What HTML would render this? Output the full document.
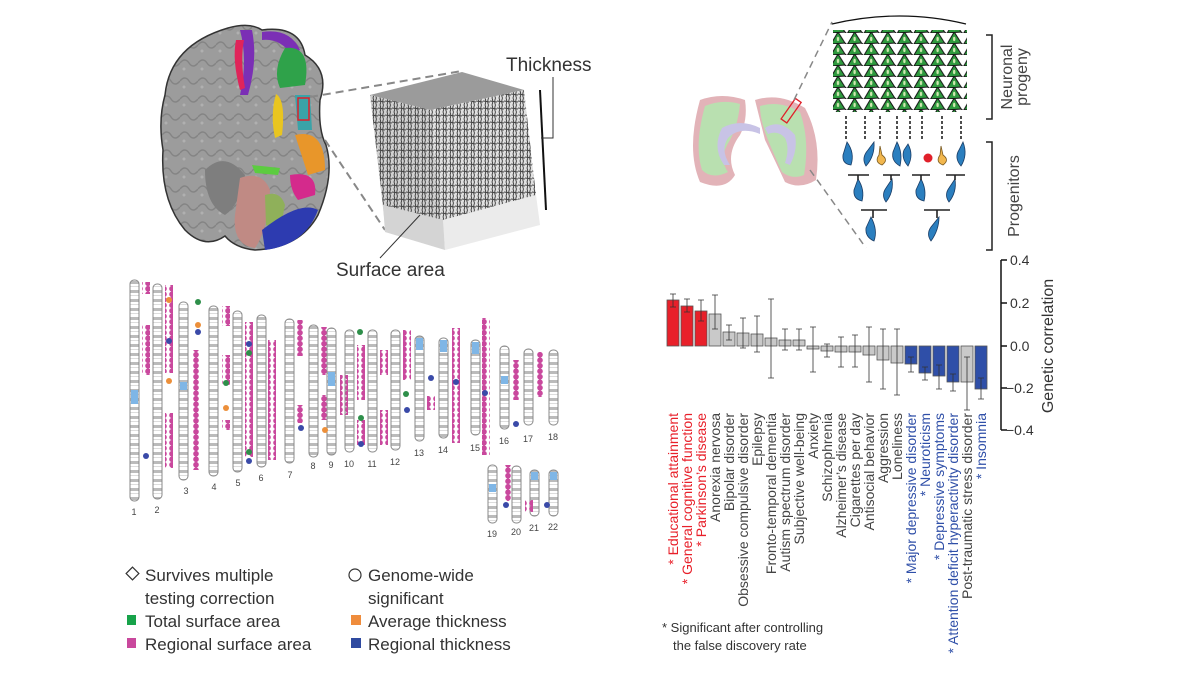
<!DOCTYPE html>
<html><head><meta charset="utf-8"><style>
html,body{margin:0;padding:0;background:#fff;width:1200px;height:675px;overflow:hidden}
svg{display:block}
text{font-family:"Liberation Sans Narrow","Liberation Sans",sans-serif}
</style></head><body>
<svg width="1200" height="675" viewBox="0 0 1200 675" xmlns="http://www.w3.org/2000/svg">
<defs>
<pattern id="band" width="8" height="9" patternUnits="userSpaceOnUse">
<rect width="8" height="9" fill="#fff"/><rect y="2" width="8" height="3" fill="#bbb"/><rect y="7" width="8" height="1" fill="#ddd"/>
</pattern>
<pattern id="mdot" width="8" height="5.5" patternUnits="userSpaceOnUse">
<circle cx="4" cy="2.75" r="2.8" fill="#c9489d"/>
</pattern>
<pattern id="neur" width="16.6" height="11" patternUnits="userSpaceOnUse">
<path d="M1 11 L8 -1 L15 10 Z" fill="#2e9a3e" stroke="#111" stroke-width="1"/>
<path d="M1 11 L-1 13 M15 10 L17 12 M8 -1 L8 -3" stroke="#111" stroke-width="1.2"/>
<ellipse cx="8" cy="6" rx="1.2" ry="2.2" fill="#cfe8b0"/>
</pattern>
<pattern id="fib" width="7" height="7" patternUnits="userSpaceOnUse">
<path d="M2 0 Q3.5 3 2 7 M5.5 0 Q4 4 5.5 7 M0 3 L7 4" stroke="#444" stroke-width="1" fill="none"/>
</pattern>
<pattern id="brainp" width="18" height="18" patternUnits="userSpaceOnUse">
<rect width="18" height="18" fill="#9c9c9c"/><path d="M0 9 Q5 3 9 9 T18 9" stroke="#848484" stroke-width="1.4" fill="none"/><circle cx="4" cy="15" r="1.5" fill="#b0b0b0"/>
</pattern>
</defs>

<!-- Brain axial -->
<path d="M228 28 Q250 22 262 30 Q300 25 305 55 Q330 70 320 100 Q318 130 326 145 Q335 175 318 215 Q300 248 255 250 Q235 248 225 236 Q205 250 185 230 Q160 200 163 150 Q158 120 165 95 Q170 45 228 28 Z" fill="url(#brainp)" stroke="#333" stroke-width="1.5"/>
<path d="M205 170 Q225 150 245 175 Q240 205 225 215 Q205 205 205 170Z" fill="#7e7e7e"/>
<path d="M240 30 Q248 60 240 95 L248 95 Q258 60 252 30Z" fill="#7b2fb5"/>
<path d="M236 40 Q232 60 240 90 L245 88 Q240 60 244 40Z" fill="#e0245a"/>
<path d="M262 32 Q290 28 300 50 L292 55 Q280 38 262 40Z" fill="#7b2fb5"/>
<path d="M285 48 Q312 45 305 85 L280 88 Q272 70 285 48Z" fill="#2fa24a"/>
<path d="M276 94 Q286 100 282 135 L275 138 Q270 115 276 94Z" fill="#e9c520"/>
<path d="M295 95 L310 95 L312 130 L298 130Z" fill="#3aa3a8"/>
<rect x="298" y="98" width="11" height="22" fill="none" stroke="#e0202a" stroke-width="1.5"/>
<path d="M295 135 Q325 128 325 170 L308 175 Q300 150 295 135Z" fill="#e8962a"/>
<path d="M290 175 Q318 170 315 195 L298 200 Q290 190 290 175Z" fill="#d42a8c"/>
<path d="M252 165 L280 168 L278 175 L255 173Z" fill="#5ccc40"/>
<path d="M240 178 Q262 170 270 190 Q268 230 255 248 Q232 245 235 215 Z" fill="#c08a84"/>
<path d="M265 195 Q280 190 285 205 L280 230 L266 225Z" fill="#8fb05a"/>
<path d="M262 230 Q300 200 318 210 Q305 245 265 250Z" fill="#2d3bb0"/>

<line x1="310" y1="97" x2="462" y2="71" stroke="#888" stroke-width="2" stroke-dasharray="8,5"/>
<line x1="325" y1="140" x2="385" y2="230" stroke="#888" stroke-width="2" stroke-dasharray="8,5"/>

<!-- Cube -->
<polygon points="370,95 462,72 524,90 430,110" fill="#9b9b9b"/>
<polygon points="370,95 430,110 443,240 385,225" fill="#d0d0d0"/>
<polygon points="430,110 524,90 538,215 443,240" fill="#e0e0e0"/>
<polygon points="370,95 430,110 443,220 383,205" fill="url(#fib)"/>
<polygon points="430,110 524,90 536,195 443,220" fill="url(#fib)"/>
<polygon points="383,205 443,220 445,250 385,232" fill="#d4d4d4"/>
<polygon points="443,220 536,195 540,225 445,250" fill="#ebebeb"/>
<line x1="540" y1="90" x2="546" y2="210" stroke="#111" stroke-width="2"/>
<polyline points="553,77 553,138 541,138" fill="none" stroke="#333" stroke-width="1"/>
<text x="506" y="71" font-size="19" fill="#333">Thickness</text>
<line x1="380" y1="258" x2="420" y2="215" stroke="#333" stroke-width="1"/>
<text x="336" y="276" font-size="19" fill="#333">Surface area</text>

<!-- Chromosomes -->
<g stroke="#888" stroke-width="1" fill="url(#band)">
<rect x="130" y="280" width="9" height="221" rx="4"/>
<rect x="153" y="284" width="9" height="215" rx="4"/>
<rect x="179" y="302" width="9" height="178" rx="4"/>
<rect x="209" y="306" width="9" height="170" rx="4"/>
<rect x="233" y="311" width="9" height="161" rx="4"/>
<rect x="257" y="315" width="9" height="152" rx="4"/>
<rect x="285" y="319" width="9" height="144" rx="4"/>
<rect x="309" y="325" width="9" height="132" rx="4"/>
<rect x="327" y="328" width="9" height="127" rx="4"/>
<rect x="345" y="330" width="9" height="122" rx="4"/>
<rect x="368" y="330" width="9" height="122" rx="4"/>
<rect x="391" y="330" width="9" height="120" rx="4"/>
<rect x="415" y="336" width="9" height="105" rx="4"/>
<rect x="439" y="338" width="9" height="100" rx="4"/>
<rect x="471" y="340" width="9" height="95" rx="4"/>
<rect x="500" y="346" width="9" height="83" rx="4"/>
<rect x="524" y="349" width="9" height="76" rx="4"/>
<rect x="549" y="350" width="9" height="75" rx="4"/>
<rect x="488" y="465" width="9" height="58" rx="4"/>
<rect x="512" y="466" width="9" height="57" rx="4"/>
<rect x="530" y="470" width="9" height="46" rx="4"/>
<rect x="549" y="470" width="9" height="46" rx="4"/>
</g>
<g fill="#7fb6e6">
<rect x="131" y="390" width="7" height="14"/><rect x="180" y="382" width="7" height="8"/><rect x="328" y="372" width="7" height="14"/>
<rect x="416" y="338" width="7" height="12"/><rect x="440" y="340" width="7" height="12"/><rect x="472" y="342" width="7" height="12"/>
<rect x="501" y="376" width="7" height="8"/><rect x="489" y="484" width="7" height="8"/><rect x="531" y="472" width="7" height="8"/><rect x="550" y="472" width="7" height="8"/>
</g>
<g fill="url(#mdot)">
<rect x="142" y="325" width="8" height="50"/><rect x="142" y="282" width="8" height="12"/>
<rect x="165" y="285" width="8" height="88"/><rect x="165" y="413" width="8" height="55"/>
<rect x="193" y="350" width="8" height="120"/>
<rect x="222" y="306" width="8" height="20"/><rect x="222" y="355" width="8" height="30"/><rect x="222" y="420" width="8" height="10"/>
<rect x="245" y="322" width="8" height="135"/>
<rect x="268" y="340" width="8" height="120"/>
<rect x="297" y="320" width="8" height="36"/><rect x="297" y="405" width="8" height="18"/>
<rect x="320" y="327" width="8" height="48"/><rect x="320" y="395" width="8" height="25"/>
<rect x="340" y="375" width="8" height="40"/>
<rect x="357" y="345" width="8" height="55"/><rect x="357" y="420" width="8" height="25"/>
<rect x="380" y="350" width="8" height="25"/><rect x="380" y="410" width="8" height="35"/>
<rect x="403" y="330" width="8" height="50"/>
<rect x="427" y="396" width="8" height="14"/>
<rect x="452" y="328" width="8" height="115"/>
<rect x="482" y="318" width="8" height="137"/>
<rect x="512" y="360" width="8" height="40"/><rect x="537" y="352" width="8" height="45"/>
<rect x="503" y="465" width="8" height="36"/><rect x="525" y="500" width="8" height="12"/>
</g>
<g fill="#2e8f4a"><circle cx="198" cy="302" r="3"/><circle cx="226" cy="383" r="3"/><circle cx="249" cy="353" r="3"/><circle cx="249" cy="452" r="3"/><circle cx="360" cy="332" r="3"/><circle cx="361" cy="418" r="3"/><circle cx="406" cy="394" r="3"/></g>
<g fill="#3a4aa8"><circle cx="146" cy="456" r="3"/><circle cx="169" cy="341" r="3"/><circle cx="198" cy="332" r="3"/><circle cx="249" cy="344" r="3"/><circle cx="249" cy="461" r="3"/><circle cx="301" cy="428" r="3"/><circle cx="361" cy="444" r="3"/><circle cx="407" cy="410" r="3"/><circle cx="431" cy="378" r="3"/><circle cx="456" cy="382" r="3"/><circle cx="485" cy="393" r="3"/><circle cx="516" cy="424" r="3"/><circle cx="506" cy="505" r="3"/><circle cx="547" cy="505" r="3"/></g>
<g fill="#ec8f3a"><circle cx="169" cy="300" r="3"/><circle cx="169" cy="381" r="3"/><circle cx="198" cy="325" r="3"/><circle cx="226" cy="408" r="3"/><circle cx="325" cy="430" r="3"/></g>
<g font-size="9" fill="#444" text-anchor="middle">
<text x="134" y="515">1</text><text x="157" y="513">2</text><text x="186" y="494">3</text><text x="214" y="490">4</text><text x="238" y="486">5</text><text x="261" y="481">6</text><text x="290" y="478">7</text><text x="313" y="469">8</text><text x="331" y="468">9</text><text x="349" y="467">10</text><text x="372" y="467">11</text><text x="395" y="465">12</text><text x="419" y="456">13</text><text x="443" y="453">14</text><text x="475" y="451">15</text><text x="504" y="444">16</text><text x="528" y="442">17</text><text x="553" y="440">18</text><text x="492" y="537">19</text><text x="516" y="535">20</text><text x="534" y="531">21</text><text x="553" y="530">22</text>
</g>

<!-- Legend -->
<g font-size="17" fill="#333">
<rect x="128" y="569" width="9" height="9" fill="none" stroke="#333" stroke-width="1.2" transform="rotate(45 132.5 573.5)"/>
<text x="145" y="581">Survives multiple</text><text x="145" y="604">testing correction</text>
<rect x="127" y="615" width="9" height="10" fill="#17a34a"/><text x="145" y="627">Total surface area</text>
<rect x="127" y="638" width="9" height="10" fill="#c9489d"/><text x="145" y="650">Regional surface area</text>
<circle cx="355" cy="575" r="6" fill="none" stroke="#333" stroke-width="1.2"/>
<text x="368" y="581">Genome-wide</text><text x="368" y="604">significant</text>
<rect x="351" y="615" width="10" height="10" fill="#ef8c3c"/><text x="368" y="627">Average thickness</text>
<rect x="351" y="638" width="10" height="10" fill="#2f4aa0"/><text x="368" y="650">Regional thickness</text>
</g>

<!-- Coronal brain -->
<path d="M700 100 Q722 92 745 100 Q748 120 740 135 Q725 155 735 175 Q725 192 700 182 Q686 150 700 100Z" fill="#e2b3b8"/>
<path d="M705 106 Q722 99 740 104 Q738 125 730 140 Q718 158 728 172 Q712 180 702 170 Q694 145 705 106Z" fill="#b9e0b0"/>
<path d="M755 100 Q780 92 805 108 Q822 140 816 180 Q800 190 785 182 Q770 150 765 140 Q760 120 755 100Z" fill="#e2b3b8"/>
<path d="M760 106 Q780 100 800 112 Q810 140 804 175 Q792 180 782 172 Q772 150 768 140 Q760 120 760 106Z" fill="#b9e0b0"/>
<path d="M722 128 Q740 118 760 128 L760 134 Q740 126 728 138 Q720 150 730 165 L724 165 Q712 148 722 128Z" fill="#c8c3e6"/>
<path d="M765 128 Q780 118 795 135 Q798 150 790 165 L785 163 Q790 148 785 138 Q778 130 768 134Z" fill="#c8c3e6"/>
<rect x="788" y="98" width="7" height="25" fill="none" stroke="#e0202a" stroke-width="1.3" transform="rotate(35 791 110)"/>
<line x1="794" y1="100" x2="832" y2="22" stroke="#888" stroke-width="1.5" stroke-dasharray="7,5"/>
<line x1="810" y1="170" x2="866" y2="248" stroke="#888" stroke-width="1.5" stroke-dasharray="7,5"/>

<!-- Neurons -->
<path d="M832 24 Q900 8 966 24" fill="none" stroke="#111" stroke-width="1.2"/>
<rect x="833" y="30" width="134" height="82" fill="url(#neur)"/>
<g stroke="#222" stroke-width="1.6" stroke-dasharray="3,2">
<line x1="846" y1="116" x2="846" y2="140"/><line x1="865" y1="116" x2="865" y2="140"/><line x1="880" y1="116" x2="880" y2="140"/><line x1="897" y1="116" x2="897" y2="140"/><line x1="910" y1="116" x2="910" y2="140"/><line x1="922" y1="116" x2="922" y2="140"/><line x1="942" y1="116" x2="942" y2="140"/><line x1="961" y1="116" x2="961" y2="140"/>
</g>
<g fill="#2b7fbf" stroke="#1a3d66" stroke-width="0.8">
<path d="M847 142 Q855 153 851 165 Q842 164 843 155Z"/><path d="M874 142 Q875 156 866 166 Q861 158 868 150Z"/>
<path d="M897 142 Q903 153 900 166 Q891 161 893 152Z"/><path d="M908 144 Q914 155 908 166 Q901 158 904 150Z"/>
<path d="M963 142 Q968 155 961 166 Q954 158 959 150Z"/>
<path d="M858 179 Q865 190 862 201 Q853 199 854 190Z"/><path d="M892 179 Q894 192 886 202 Q881 195 886 188Z"/>
<path d="M921 179 Q927 190 924 201 Q915 199 916 190Z"/><path d="M955 179 Q957 192 949 202 Q944 195 949 188Z"/>
<path d="M871 217 Q878 230 874 241 Q865 237 866 228Z"/><path d="M939 217 Q939 230 931 241 Q926 234 931 227Z"/>
</g>
<g fill="#f2b74e" stroke="#7a5a20" stroke-width="0.8"><path d="M880 146 L882 155 Q889 160 882 165 Q874 162 879 155Z"/><path d="M941 146 L943 155 Q950 160 943 165 Q935 162 940 155Z"/></g>
<circle cx="928" cy="158" r="4.5" fill="#e0202a"/>
<g stroke="#222" stroke-width="1.6">
<line x1="848" y1="175" x2="869" y2="175"/><line x1="883" y1="175" x2="900" y2="175"/><line x1="912" y1="175" x2="930" y2="175"/><line x1="946" y1="175" x2="965" y2="175"/>
<line x1="858" y1="175" x2="858" y2="180"/><line x1="891" y1="175" x2="891" y2="180"/><line x1="921" y1="175" x2="921" y2="180"/><line x1="955" y1="175" x2="955" y2="180"/>
<line x1="861" y1="210" x2="887" y2="210"/><line x1="924" y1="210" x2="950" y2="210"/>
<line x1="873" y1="210" x2="873" y2="218"/><line x1="937" y1="210" x2="937" y2="218"/>
</g>
<g stroke="#222" stroke-width="1.5" fill="none"><polyline points="986,35 992,35 992,119 986,119"/><polyline points="986,142 992,142 992,250 986,250"/></g>
<g font-size="16" fill="#444" font-family="Liberation Sans, sans-serif">
<text transform="translate(1012 77) rotate(-90)" text-anchor="middle">Neuronal</text>
<text transform="translate(1027 77) rotate(-90)" text-anchor="middle">progeny</text>
<text transform="translate(1019 196) rotate(-90)" text-anchor="middle">Progenitors</text>
</g>

<!-- Bar chart -->
<g stroke="#111" stroke-width="1.5">
<line x1="1001" y1="260" x2="1001" y2="430"/>
<line x1="1001" y1="260" x2="1007" y2="260"/><line x1="1001" y1="303" x2="1007" y2="303"/><line x1="1001" y1="346" x2="1007" y2="346"/><line x1="1001" y1="388" x2="1007" y2="388"/><line x1="1001" y1="430" x2="1007" y2="430"/>
</g>
<g font-size="14" fill="#333" font-family="Liberation Sans, sans-serif">
<text x="1010" y="265">0.4</text><text x="1010" y="308">0.2</text><text x="1010" y="351">0.0</text><text x="1006" y="393">−0.2</text><text x="1006" y="435">−0.4</text>
<text transform="translate(1053 346) rotate(-90)" text-anchor="middle" font-size="16">Genetic correlation</text>
</g>
<g stroke="#555" stroke-width="0.8">
<rect x="667" y="300" width="12" height="46" fill="#e8202a"/>
<rect x="681" y="306" width="12" height="40" fill="#e8202a"/>
<rect x="695" y="311" width="12" height="35" fill="#e8202a"/>
<rect x="709" y="314" width="12" height="32" fill="#c9c9c9"/>
<rect x="723" y="332" width="12" height="14" fill="#c9c9c9"/>
<rect x="737" y="333" width="12" height="13" fill="#c9c9c9"/>
<rect x="751" y="334" width="12" height="12" fill="#c9c9c9"/>
<rect x="765" y="338" width="12" height="8" fill="#c9c9c9"/>
<rect x="779" y="340" width="12" height="6" fill="#c9c9c9"/>
<rect x="793" y="340" width="12" height="6" fill="#c9c9c9"/>
<rect x="807" y="346" width="12" height="3" fill="#c9c9c9"/>
<rect x="821" y="346" width="12" height="5" fill="#c9c9c9"/>
<rect x="835" y="346" width="12" height="6" fill="#c9c9c9"/>
<rect x="849" y="346" width="12" height="6" fill="#c9c9c9"/>
<rect x="863" y="346" width="12" height="9" fill="#c9c9c9"/>
<rect x="877" y="346" width="12" height="14" fill="#c9c9c9"/>
<rect x="891" y="346" width="12" height="17" fill="#c9c9c9"/>
<rect x="905" y="346" width="12" height="18" fill="#2f4fa8"/>
<rect x="919" y="346" width="12" height="27" fill="#2f4fa8"/>
<rect x="933" y="346" width="12" height="30" fill="#2f4fa8"/>
<rect x="947" y="346" width="12" height="36" fill="#2f4fa8"/>
<rect x="961" y="346" width="12" height="36" fill="#c9c9c9"/>
<rect x="975" y="346" width="12" height="43" fill="#2f4fa8"/>
</g>
<g stroke="#333" stroke-width="0.8">
<path d="M673 294V307M670 294H676M670 307H676"/>
<path d="M687 299V312M684 299H690M684 312H690"/>
<path d="M701 300V321M698 300H704M698 321H704"/>
<path d="M715 295V329M712 295H718M712 329H718"/>
<path d="M729 325V340M726 325H732M726 340H732"/>
<path d="M743 318V348M740 318H746M740 348H746"/>
<path d="M757 316V352M754 316H760M754 352H760"/>
<path d="M771 299V378M768 299H774M768 378H774"/>
<path d="M785 329V350M782 329H788M782 350H788"/>
<path d="M799 329V350M796 329H802M796 350H802"/>
<path d="M813 327V372M810 327H816M810 372H816"/>
<path d="M827 344V357M824 344H830M824 357H830"/>
<path d="M841 337V367M838 337H844M838 367H844"/>
<path d="M855 335V367M852 335H858M852 367H858"/>
<path d="M869 327V382M866 327H872M866 382H872"/>
<path d="M883 329V389M880 329H886M880 389H886"/>
<path d="M897 329V395M894 329H900M894 395H900"/>
<path d="M911 357V372M908 357H914M908 372H914"/>
<path d="M925 367V380M922 367H928M922 380H928"/>
<path d="M939 365V389M936 365H942M936 389H942"/>
<path d="M953 374V391M950 374H956M950 391H956"/>
<path d="M967 357V410M964 357H970M964 410H970"/>
<path d="M981 378V399M978 378H984M978 399H984"/>
</g>
<g font-size="14" text-anchor="end" fill="#444">
<text transform="translate(678 413) rotate(-90)" fill="#e8202a">* Educational attainment</text>
<text transform="translate(692 413) rotate(-90)" fill="#e8202a">* General cognitive function</text>
<text transform="translate(706 413) rotate(-90)" fill="#e8202a">* Parkinson’s disease</text>
<text transform="translate(720 413) rotate(-90)">Anorexia nervosa</text>
<text transform="translate(734 413) rotate(-90)">Bipolar disorder</text>
<text transform="translate(748 413) rotate(-90)">Obsessive compulsive disorder</text>
<text transform="translate(762 413) rotate(-90)">Epilepsy</text>
<text transform="translate(776 413) rotate(-90)">Fronto-temporal dementia</text>
<text transform="translate(790 413) rotate(-90)">Autism spectrum disorder</text>
<text transform="translate(804 413) rotate(-90)">Subjective well-being</text>
<text transform="translate(818 413) rotate(-90)">Anxiety</text>
<text transform="translate(832 413) rotate(-90)">Schizophrenia</text>
<text transform="translate(846 413) rotate(-90)">Alzheimer’s disease</text>
<text transform="translate(860 413) rotate(-90)">Cigarettes per day</text>
<text transform="translate(874 413) rotate(-90)">Antisocial behavior</text>
<text transform="translate(888 413) rotate(-90)">Aggression</text>
<text transform="translate(902 413) rotate(-90)">Loneliness</text>
<text transform="translate(916 413) rotate(-90)" fill="#2f4fa8">* Major depressive disorder</text>
<text transform="translate(930 413) rotate(-90)" fill="#2f4fa8">* Neuroticism</text>
<text transform="translate(944 413) rotate(-90)" fill="#2f4fa8">* Depressive symptoms</text>
<text transform="translate(958 413) rotate(-90)" fill="#2f4fa8">* Attention deficit hyperactivity disorder</text>
<text transform="translate(972 413) rotate(-90)">Post-traumatic stress disorder</text>
<text transform="translate(986 413) rotate(-90)" fill="#2f4fa8">* Insomnia</text>
</g>
<g font-size="13" fill="#333"><text x="662" y="632">* Significant after controlling</text><text x="673" y="650">the false discovery rate</text></g>
</svg>
</body></html>
